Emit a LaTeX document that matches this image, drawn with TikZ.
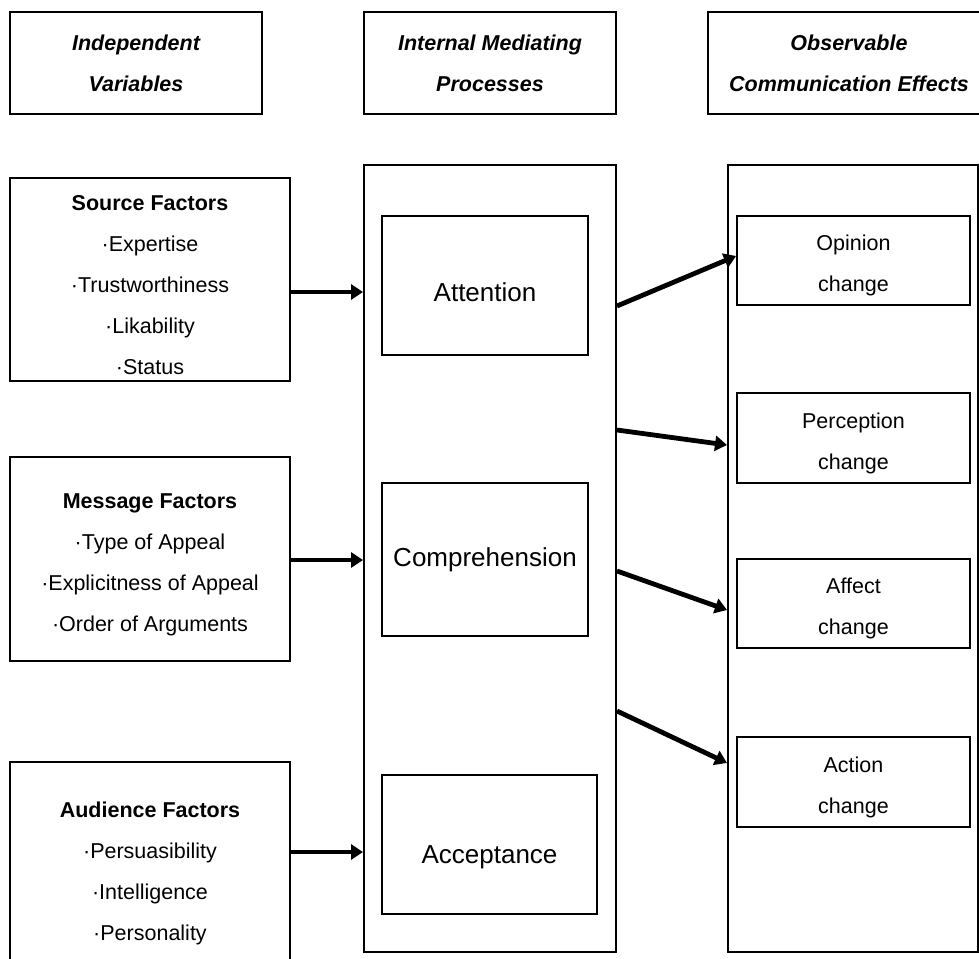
\documentclass[tikz,border=0pt]{standalone}
\usepackage{fontspec}
\setmainfont{Liberation Sans}
\usetikzlibrary{arrows.meta}
\tikzset{
	box/.style = {draw, line width = 1pt, inner sep = 0pt, align = center, font = \fontsize{10.75}{20.5}\selectfont},
	head/.style = {box, minimum height = 51pt, font = \fontsize{10.75}{20.5}\selectfont\bfseries\itshape},
	stage/.style = {box, font = \fontsize{13}{16}\selectfont},
	arr/.style = {line width = 2.4pt, -{Triangle[length = 6pt, width = 7.5pt]}}
}
\newcommand{\lowstrut}{\rule{0pt}{13pt}}
\begin{document}
\begin{tikzpicture}[x = 0.5pt, y = -0.5pt]
	\useasboundingbox (0,0) rectangle (979,958);

	\node[head, minimum width = 126pt] (iv) at (136,63) {Independent\\Variables};
	\node[head, minimum width = 126pt] (imp) at (490,63) {Internal Mediating\\Processes};
	\node[head, minimum width = 141pt] (oce) at (849,63) {Observable\\Communication Effects};

	\node[box, minimum width = 126pt, minimum height = 393.5pt] (mid) at (490,558.5) {};
	\node[box, minimum width = 125pt, minimum height = 393.5pt] (effects) at (853,558.5) {};

	\node[box, minimum width = 140pt, minimum height = 101.5pt] (src) at (150,279.5) {\lowstrut\textbf{Source Factors}\\·Expertise\\·Trustworthiness\\·Likability\\·Status};
	\node[box, minimum width = 140pt, minimum height = 102pt] (msg) at (150,559) {\lowstrut\textbf{Message Factors}\\·Type of Appeal\\·Explicitness of Appeal\\·Order of Arguments};
	\node[box, minimum width = 140pt, minimum height = 106.5pt] (aud) at (150,868.5) {\lowstrut\textbf{Audience Factors}\\·Persuasibility\\·Intelligence\\·Personality};

	\node[stage, minimum width = 103pt, minimum height = 69.5pt, text height = 16.3pt] (att) at (485,285.5) {Attention};
	\node[stage, minimum width = 103pt, minimum height = 76.5pt] (comp) at (485,559.5) {Comprehension};
	\node[stage, minimum width = 107.5pt, minimum height = 69.5pt, text height = 21.3pt] (acc) at (489.5,844.5) {Acceptance};

	\node[box, minimum width = 116.5pt, minimum height = 44.5pt] (op) at (853.5,260.5) {\lowstrut Opinion\\change};
	\node[box, minimum width = 116.5pt, minimum height = 45pt] (per) at (853.5,438) {\lowstrut Perception\\change};
	\node[box, minimum width = 116.5pt, minimum height = 44.5pt] (aff) at (853.5,603.5) {\lowstrut Affect\\change};
	\node[box, minimum width = 116.5pt, minimum height = 45pt] (act) at (853.5,782) {\lowstrut Action\\change};

	\draw[arr] (src.east |- 0,292) -- (mid.west |- 0,292);
	\draw[arr] (msg.east |- 0,560) -- (mid.west |- 0,560);
	\draw[arr] (aud.east |- 0,852) -- (mid.west |- 0,852);

	\draw[arr] (mid.east |- 0,306) -- (op.west |- 0,256);
	\draw[arr] (mid.east |- 0,430) -- (effects.west |- 0,445);
	\draw[arr] (mid.east |- 0,571) -- (effects.west |- 0,610);
	\draw[arr] (mid.east |- 0,711) -- (effects.west |- 0,763);
\end{tikzpicture}
\end{document}
